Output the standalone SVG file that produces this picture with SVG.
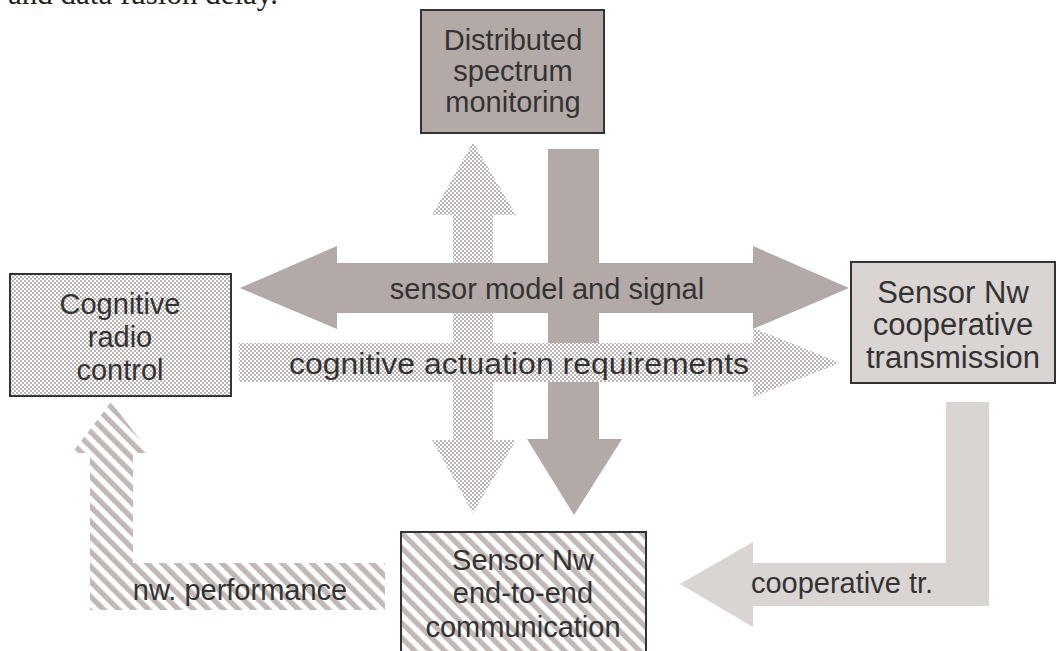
<svg xmlns="http://www.w3.org/2000/svg" width="1059" height="651" viewBox="0 0 1059 651">
<defs>
<pattern id="dots" width="4" height="4" patternUnits="userSpaceOnUse">
<rect width="4" height="4" fill="#fff"/>
<circle cx="1" cy="1" r="1" fill="#a89b9c"/>
<circle cx="3" cy="3" r="1" fill="#a89b9c"/>
</pattern>
<pattern id="stripes" width="10.6" height="10.6" patternUnits="userSpaceOnUse" patternTransform="rotate(-45)">
<rect width="10.6" height="10.6" fill="#fff"/>
<rect width="5.3" height="10.6" fill="#c2b9b6"/>
</pattern>
</defs>
<style>
.t{font-family:"Liberation Sans",Arial,sans-serif;font-size:29px;fill:#333;text-anchor:middle}
.box{stroke:#333;stroke-width:2}
.dark{fill:#b3a9a6}
.light{fill:#dad4d2}
</style>
<text x="8" y="4" style="font-family:'Liberation Serif','Times New Roman',serif;font-size:31px;fill:#222">and data fusion delay.</text>

<g id="connectors">
<polygon id="c-dotted-vertical" fill="url(#dots)" points="473,142 516,215 493,215 493,440 516,440 473,513 432,440 453,440 453,215 432,215"/>
<polygon id="c-dark-down" class="dark" points="548,149 599,149 599,439 622,439 574,515 527,439 548,439"/>
<polygon id="c-sensor-model" class="dark" points="240,288 337,246 337,263 753,263 753,246 849,288 753,329 753,313 337,313 337,329"/>
<polygon id="c-cognitive" fill="url(#dots)" points="239,343 753,343 753,328 840,363 753,397 753,382 239,382"/>
<polygon id="c-nw-perf" fill="url(#stripes)" points="90,610 385,610 385,563 133,563 133,453 150,453 111,402 72,453 90,453"/>
<polygon id="c-coop" class="light" points="989,402 989,606 753,606 753,627 680,584 753,542 753,563 946,563 946,402"/>
<text class="t" x="547" y="299">sensor model and signal</text>
<text class="t" x="519" y="374" textLength="460" lengthAdjust="spacingAndGlyphs">cognitive actuation requirements</text>
<text class="t" x="240" y="600">nw. performance</text>
<text class="t" x="842" y="593">cooperative tr.</text>
</g>

<g id="node-distributed">
<rect class="box dark" x="421" y="10" width="183" height="123"/>
<text class="t" x="513" y="50">Distributed</text>
<text class="t" x="513" y="81">spectrum</text>
<text class="t" x="513" y="112">monitoring</text>
</g>

<g id="node-cognitive">
<rect class="box" fill="url(#dots)" x="10" y="274" width="221" height="122"/>
<text class="t" x="120" y="314">Cognitive</text>
<text class="t" x="120" y="347">radio</text>
<text class="t" x="120" y="380">control</text>
</g>

<g id="node-coop-tx">
<rect class="box light" x="851" y="262" width="204" height="121"/>
<text class="t" x="953" y="303" style="font-size:31px">Sensor Nw</text>
<text class="t" x="953" y="335" style="font-size:31px">cooperative</text>
<text class="t" x="953" y="368" style="font-size:31px">transmission</text>
</g>

<g id="node-e2e">
<rect class="box" fill="url(#stripes)" x="401" y="532" width="245" height="140"/>
<text class="t" x="523" y="570">Sensor Nw</text>
<text class="t" x="523" y="603">end-to-end</text>
<text class="t" x="523" y="637">communication</text>
</g>
</svg>
